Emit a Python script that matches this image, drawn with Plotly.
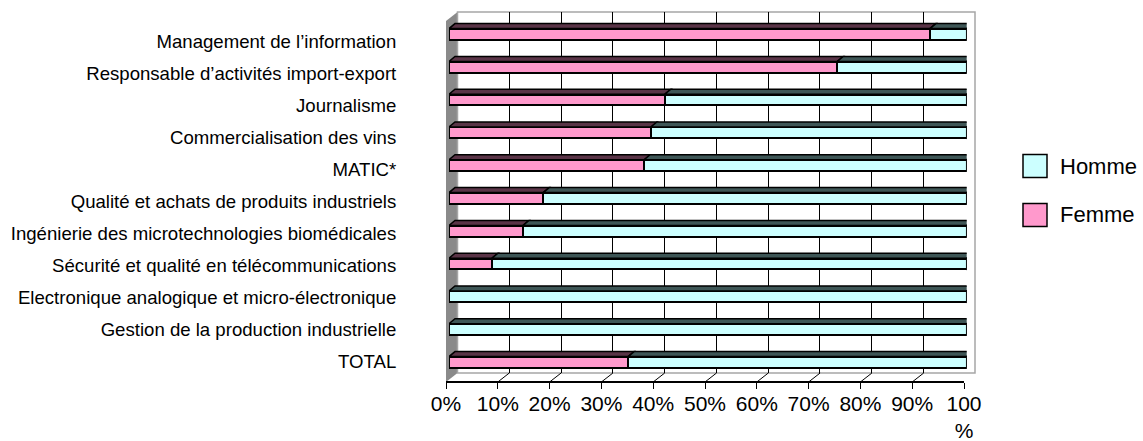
import plotly.graph_objects as go

# Categories, top to bottom
categories = [
    "Management de l’information",
    "Responsable d’activités import-export",
    "Journalisme",
    "Commercialisation des vins",
    "MATIC*",
    "Qualité et achats de produits industriels",
    "Ingénierie des microtechnologies biomédicales",
    "Sécurité et qualité en télécommunications",
    "Electronique analogique et micro-électronique",
    "Gestion de la production industrielle",
    "TOTAL",
]
femme = [92.9, 75.0, 41.7, 39.0, 37.7, 18.2, 14.3, 8.3, 0.0, 0.0, 34.6]
homme = [7.1, 25.0, 58.3, 61.0, 62.3, 81.8, 85.7, 91.7, 100.0, 100.0, 65.4]
tick_values = [0, 10, 20, 30, 40, 50, 60, 70, 80, 90, 100]
tick_labels = ["0%", "10%", "20%", "30%", "40%", "50%", "60%", "70%", "80%", "90%", "100<br>%"]

W, H = 1143, 441
FONT = "Arial, Liberation Sans, sans-serif"
PINK, CYAN = "#FF99CC", "#CCFFFF"
PINK_TOP, CYAN_TOP = "#5a3447", "#3e5656"


def fx(px):
    return px / W


def fy(py):
    return 1 - py / H


# pixel geometry of the 3-D box
FRONT_L, FRONT_R, FRONT_Y = 446, 964, 382      # floor front edge
BACK_L, BACK_R, BACK_T, BACK_B = 457.5, 975, 12, 373  # back wall
BAR_L, BAR_R = 449, 966.7                      # bar front plane
ROW_TOP, ROW_BOT = 17.6, 378.4                 # category band of the bars
LBL_TOP, LBL_BOT = 25.0, 378.0                 # category band of the labels
BAR_W = 0.33
DEPTH_X, DEPTH_Y = 6, 5                        # bar depth in pixels

n = len(categories)
idx = list(range(n))
x_unit = (BAR_R - BAR_L) / 100.0
y_unit = (ROW_BOT - ROW_TOP) / n
dxu = DEPTH_X / x_unit
dyu = DEPTH_Y / y_unit

fig = go.Figure()

# empty traces so every subplot exists
fig.add_trace(go.Scatter(x=[None], y=[None], xaxis="x", yaxis="y",
                         showlegend=False, hoverinfo="skip"))
fig.add_trace(go.Scatter(x=[None], y=[None], xaxis="x3", yaxis="y",
                         showlegend=False, hoverinfo="skip"))
fig.add_trace(go.Scatter(x=[None], y=[None], xaxis="x2", yaxis="y3",
                         showlegend=False, hoverinfo="skip"))

fig.add_trace(go.Bar(
    y=idx, x=femme, name="Femme", orientation="h", width=BAR_W,
    marker=dict(color=PINK, line=dict(color="black", width=2)),
    xaxis="x2", yaxis="y2", showlegend=False,
))
fig.add_trace(go.Bar(
    y=idx, x=homme, base=femme, name="Homme", orientation="h", width=BAR_W,
    marker=dict(color=CYAN, line=dict(color="black", width=2)),
    xaxis="x2", yaxis="y2", showlegend=False,
))

shapes = []

# left side wall
shapes.append(dict(
    type="path", xref="paper", yref="paper", layer="below",
    path=(f"M {fx(FRONT_L)},{fy(FRONT_Y - 361)} L {fx(BACK_L)},{fy(BACK_T)} "
          f"L {fx(BACK_L)},{fy(BACK_B)} L {fx(FRONT_L)},{fy(FRONT_Y)} Z"),
    fillcolor="#8a8a8a", line=dict(width=0),
))
# back wall outline
shapes.append(dict(
    type="rect", xref="x domain", yref="y domain", x0=0, x1=1, y0=0, y1=1,
    line=dict(color="#a6a6a6", width=1.5), layer="below",
))
# floor grid lines joining front ticks to back wall grid lines
depth_u = (BACK_L - FRONT_L) / ((FRONT_R - FRONT_L) / 100.0)
for v in tick_values[1:]:
    shapes.append(dict(
        type="line", xref="x3", yref="paper",
        x0=v, x1=v + depth_u, y0=fy(FRONT_Y), y1=fy(BACK_B),
        line=dict(color="black" if v < 100 else "#a6a6a6", width=1),
    ))

# 3-D faces of the bars
for i in idx:
    top = i - BAR_W / 2
    bot = i + BAR_W / 2
    segs = [(0.0, femme[i], PINK_TOP), (femme[i], femme[i] + homme[i], CYAN_TOP)]
    for a, b, col in segs:
        if b - a <= 0:
            continue
        shapes.append(dict(
            type="path", xref="x2", yref="y2", layer="above",
            path=(f"M {a},{top} L {b},{top} L {b + dxu},{top - dyu} "
                  f"L {a + dxu},{top - dyu} Z"),
            fillcolor=col, line=dict(color="black", width=1.5),
        ))
    end = femme[i] + homme[i]
    side_col = CYAN_TOP if homme[i] > 0 else PINK_TOP
    shapes.append(dict(
        type="path", xref="x2", yref="y2", layer="above",
        path=(f"M {end},{top} L {end + dxu},{top - dyu} L {end + dxu},{bot - dyu} "
              f"L {end},{bot} Z"),
        fillcolor=side_col, line=dict(color="black", width=1.5),
    ))

# legend boxes
legend_items = [("Homme", CYAN, 166), ("Femme", PINK, 215)]
annotations = []
for label, col, cy in legend_items:
    shapes.append(dict(
        type="rect", xref="paper", yref="paper",
        x0=fx(1023), x1=fx(1047), y0=fy(cy + 11.5), y1=fy(cy - 11.5),
        fillcolor=col, line=dict(color="black", width=1.5),
    ))
    annotations.append(dict(
        x=fx(1058), y=fy(cy), xref="paper", yref="paper", text=label,
        showarrow=False, xanchor="left", yanchor="middle",
        font=dict(family=FONT, size=22, color="black"),
    ))

common = dict(automargin=False, fixedrange=True, zeroline=False)

fig.update_layout(
    template="none",
    width=W, height=H,
    margin=dict(l=0, r=0, t=0, b=0, pad=0, autoexpand=False),
    paper_bgcolor="white", plot_bgcolor="rgba(0,0,0,0)",
    barmode="stack", bargap=0,
    font=dict(family=FONT, color="black"),
    showlegend=False,
    xaxis=dict(
        domain=[fx(BACK_L), fx(BACK_R)], range=[0, 100], anchor="y",
        tickvals=tick_values[1:-1], showticklabels=False, ticks="",
        showgrid=True, gridcolor="black", gridwidth=1,
        showline=False, **common,
    ),
    yaxis=dict(
        domain=[fy(BACK_B), fy(BACK_T)], range=[0, 1], anchor="x",
        visible=False, showgrid=False, **common,
    ),
    xaxis2=dict(
        domain=[fx(BAR_L), fx(BAR_R)], range=[0, 100], anchor="y2",
        visible=False, showgrid=False, **common,
    ),
    yaxis2=dict(
        domain=[fy(ROW_BOT), fy(ROW_TOP)], range=[n - 0.5, -0.5], anchor="x2",
        visible=False, showgrid=False, **common,
    ),
    # category labels along the front edge of the left wall
    yaxis3=dict(
        domain=[fy(LBL_BOT), fy(LBL_TOP)], range=[n - 0.5, -0.5], anchor="x2",
        tickvals=idx, ticktext=categories,
        ticks="outside", ticklen=48, tickcolor="rgba(0,0,0,0)",
        tickfont=dict(family=FONT, size=18.6, color="black"),
        showgrid=False, showline=False, **common,
    ),
    xaxis3=dict(
        domain=[fx(FRONT_L), fx(FRONT_R)], range=[0, 100],
        anchor="free", position=fy(FRONT_Y),
        tickvals=tick_values, ticktext=tick_labels,
        ticks="outside", ticklen=6, tickwidth=1, tickcolor="black",
        ticklabelstandoff=-3,
        showline=True, linecolor="black", linewidth=1.5,
        tickfont=dict(family=FONT, size=21, color="black"),
        showgrid=False, **common,
    ),
    shapes=shapes,
    annotations=annotations,
)

fig.write_html("out.html")
